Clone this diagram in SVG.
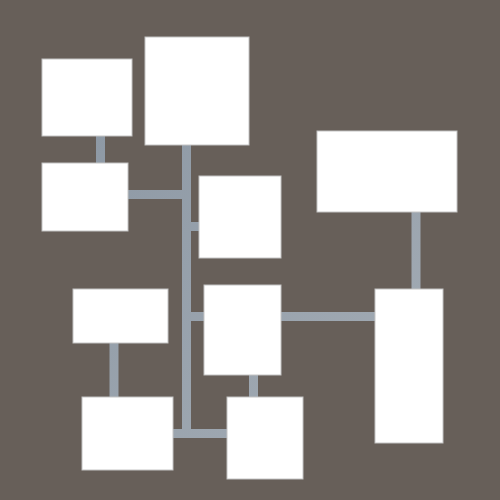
<svg xmlns="http://www.w3.org/2000/svg" width="500" height="500" viewBox="0 0 500 500">
<defs>
<linearGradient id="cg" gradientUnits="userSpaceOnUse" x1="0" y1="0" x2="500" y2="500">
<stop offset="0" stop-color="#86929f"/>
<stop offset="1" stop-color="#a9b1b9"/>
</linearGradient>
<style>
.box{fill:#ffffff;stroke:#c4c4c4;stroke-width:1}
.c{stroke:url(#cg);stroke-width:9;fill:none;stroke-linecap:butt}
</style>
</defs>
<rect width="500" height="500" fill="#675f59"/>
<g id="connectors">
<line class="c" x1="100.5" y1="136" x2="100.5" y2="163"/>
<line class="c" x1="186.5" y1="145" x2="186.5" y2="438"/>
<line class="c" x1="128" y1="194.5" x2="186.5" y2="194.5"/>
<line class="c" x1="186.5" y1="226.5" x2="199" y2="226.5"/>
<line class="c" x1="186.5" y1="316.5" x2="204" y2="316.5"/>
<line class="c" x1="281" y1="316.5" x2="375" y2="316.5"/>
<line class="c" x1="253.5" y1="375" x2="253.5" y2="397"/>
<line class="c" x1="114" y1="343" x2="114" y2="397"/>
<line class="c" x1="173" y1="433.5" x2="227" y2="433.5"/>
<line class="c" x1="416" y1="212" x2="416" y2="289"/>
</g>
<g id="nodeA"><rect class="box" x="42" y="59" width="90" height="77"/></g>
<g id="nodeB"><rect class="box" x="145" y="37" width="104" height="108"/></g>
<g id="nodeC"><rect class="box" x="42" y="163" width="86" height="68"/></g>
<g id="nodeD"><rect class="box" x="199" y="176" width="82" height="82"/></g>
<g id="nodeE"><rect class="box" x="73" y="289" width="95" height="54"/></g>
<g id="nodeF"><rect class="box" x="82" y="397" width="91" height="73"/></g>
<g id="nodeG"><rect class="box" x="204" y="285" width="77" height="90"/></g>
<g id="nodeH"><rect class="box" x="227" y="397" width="76" height="82"/></g>
<g id="nodeI"><rect class="box" x="317" y="131" width="140" height="81"/></g>
<g id="nodeJ"><rect class="box" x="375" y="289" width="68" height="154"/></g>
</svg>
